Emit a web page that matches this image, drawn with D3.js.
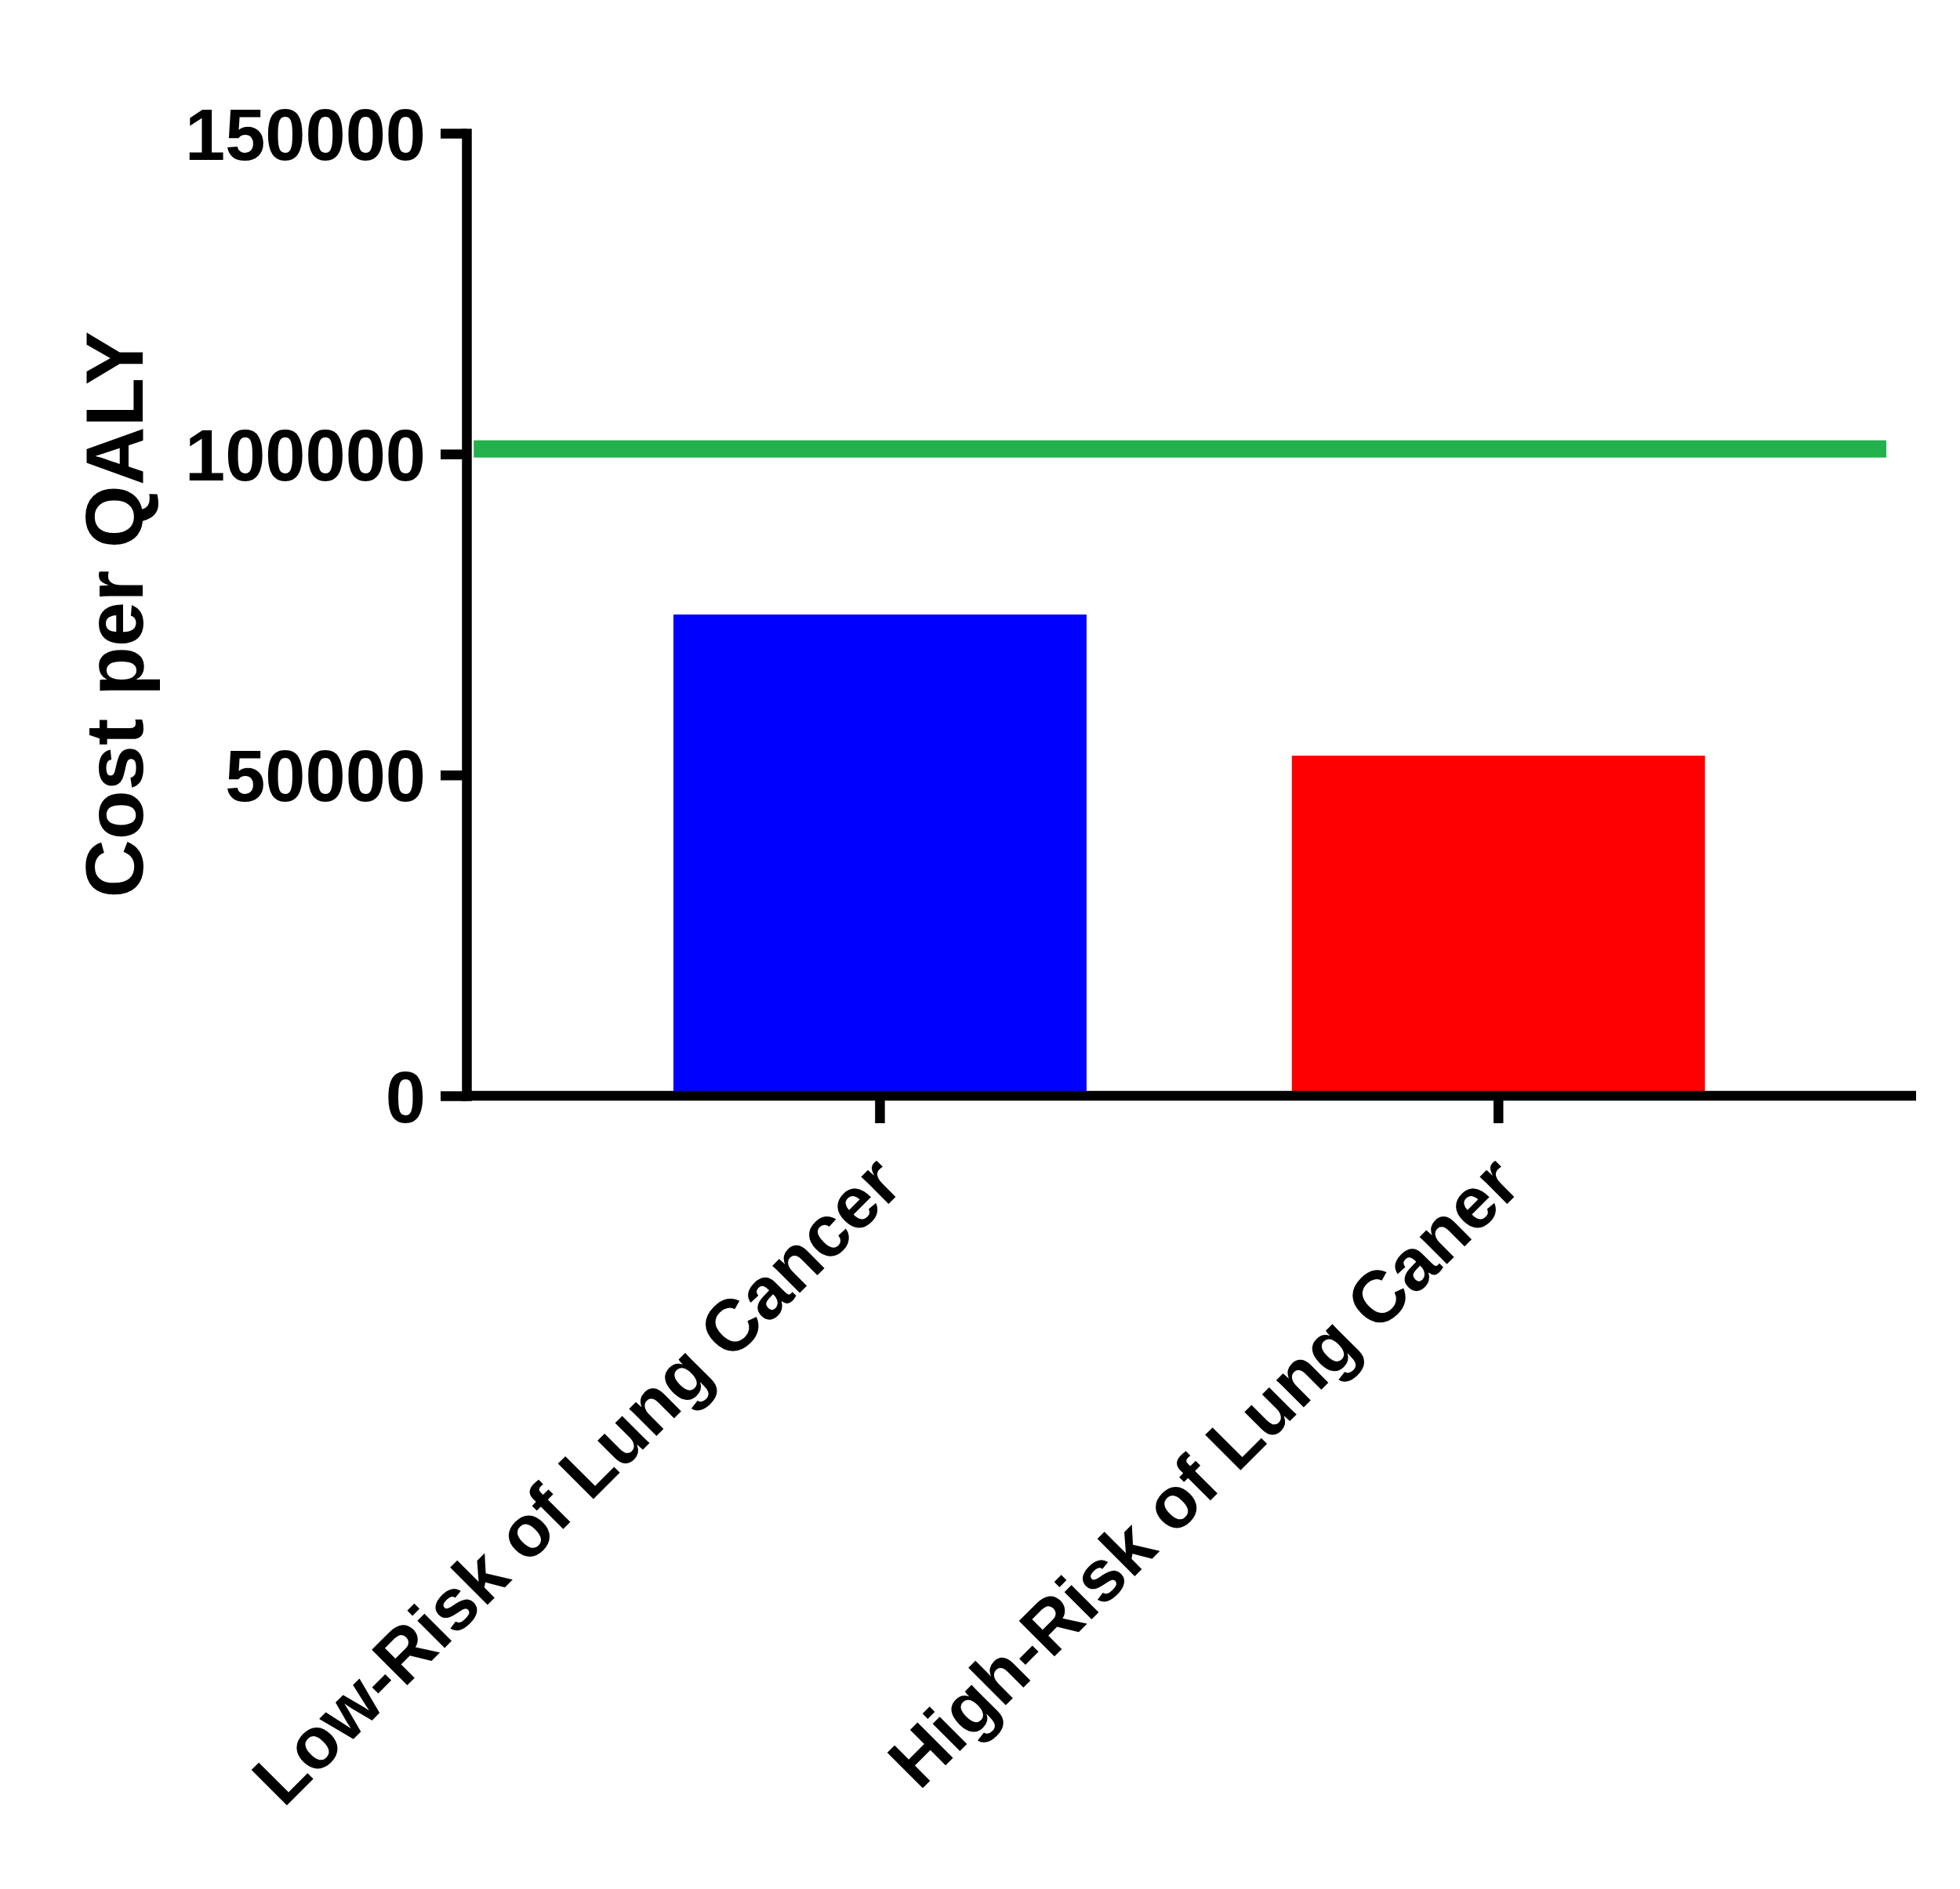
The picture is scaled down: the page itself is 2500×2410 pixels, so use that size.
<!DOCTYPE html>
<html>
<head>
<meta charset="utf-8">
<script src="https://cdn.jsdelivr.net/npm/d3@7"></script>
<style>
  html, body { margin: 0; padding: 0; background: #fff; }
  svg { display: block; }
  text { font-family: "Liberation Sans", Arial, Helvetica, sans-serif; font-weight: bold; fill: #000; }
</style>
</head>
<body>
<svg id="chart" width="2500" height="2410"></svg>
<script>
// data
const categories = ['Low-Risk of Lung Cancer', 'High-Risk of Lung Caner'];
const costPerQaly = [75000, 53000];
const barColors = ['#0000ff', '#ff0000'];
const threshold = 100800;
const yTicks = [0, 50000, 100000, 150000];
const yTitle = 'Cost per QALY';

const svg = d3.select('#chart');
const axisX = 595, y0px = 1398, yTop = 170, xEnd = 2444;
const lw = 12.5;

const y = d3.scaleLinear().domain([0, 150000]).range([y0px, yTop]);
const x = d3.scaleBand()
  .domain(categories)
  .range([axisX, xEnd])
  .paddingInner(0.332)
  .paddingOuter(0.338)
  .align(0.495);

// bars
svg.append('g')
  .selectAll('rect')
  .data(categories)
  .join('rect')
  .attr('x', d => x(d))
  .attr('width', x.bandwidth())
  .attr('y', (d, i) => y(costPerQaly[i]))
  .attr('height', (d, i) => y(0) - y(costPerQaly[i]))
  .attr('fill', (d, i) => barColors[i]);

// threshold line
svg.append('line')
  .attr('x1', axisX + lw / 2 + 3)
  .attr('x2', x.range()[1] - 38)
  .attr('y1', y(threshold))
  .attr('y2', y(threshold))
  .attr('stroke', '#22b14c')
  .attr('stroke-width', 22);

// y axis
const yAxis = svg.append('g')
  .attr('transform', `translate(${axisX},0)`)
  .call(d3.axisLeft(y).tickValues(yTicks).tickSize(33).tickSizeOuter(0).tickPadding(19).tickFormat(d3.format('d')));
yAxis.select('.domain').attr('stroke-width', lw).attr('stroke-linecap', 'square');
yAxis.selectAll('.tick line').attr('stroke-width', lw);
yAxis.selectAll('.tick text')
  .attr('font-size', 92)
  .attr('dy', '0.36em')
  .style('font-family', '"Liberation Sans", Arial, sans-serif')
  .style('font-weight', 'bold');

// x axis
const xAxis = svg.append('g')
  .attr('transform', `translate(0,${y0px})`)
  .call(d3.axisBottom(x).tickSize(35).tickSizeOuter(0).tickFormat(''));
xAxis.select('.domain').attr('d', `M${axisX},0H${xEnd}`).attr('stroke-width', lw);
xAxis.selectAll('.tick line').attr('stroke-width', lw);

// rotated category labels
svg.append('g')
  .selectAll('text')
  .data(categories)
  .join('text')
  .attr('transform', d => `translate(${x(d) + x.bandwidth() / 2 + 32},${y0px + 117}) rotate(-45)`)
  .attr('text-anchor', 'end')
  .attr('font-size', 93)
  .text(d => d);

// y axis title
svg.append('text')
  .attr('transform', `translate(182,${(y0px + yTop) / 2}) rotate(-90)`)
  .attr('text-anchor', 'middle')
  .attr('font-size', 103)
  .text(yTitle);
</script>
</body>
</html>
